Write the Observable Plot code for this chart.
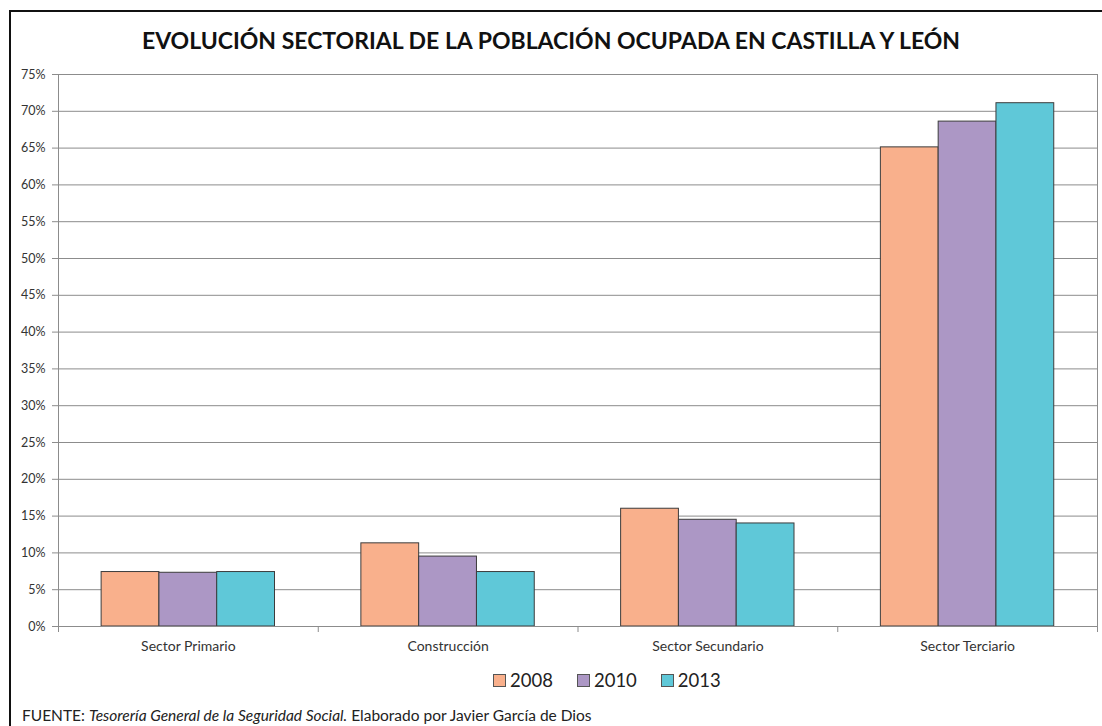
<!DOCTYPE html>
<html><head><meta charset="utf-8">
<script src="https://cdn.jsdelivr.net/npm/d3@7"></script>
<script src="https://cdn.jsdelivr.net/npm/@observablehq/plot@0.6"></script>
<style>
html,body{margin:0;padding:0;background:#fff;}
#wrap{position:relative;width:1102px;height:726px;overflow:hidden;font-family:Lato,sans-serif;background:#fff;}
#frame{position:absolute;left:9px;top:10px;width:1200px;height:800px;border-left:2px solid #111;border-top:2px solid #111;pointer-events:none;box-sizing:border-box;}
#title{height:56px;box-sizing:border-box;padding-top:28px;line-height:24px;text-align:center;font-weight:bold;font-size:23px;color:#111;white-space:nowrap;}
#chart svg{display:block;}
#legend{height:40px;box-sizing:border-box;padding-top:8px;padding-left:493px;display:flex;align-items:center;line-height:25px;font-size:18.5px;color:#222;}
.item{display:flex;align-items:center;margin-right:24px;}
.sw{width:11px;height:11px;border:1px solid #555;margin-right:4px;}
#footer{height:30px;box-sizing:border-box;padding-top:9px;padding-left:22px;line-height:20px;font-size:15.5px;color:#222;white-space:nowrap;}
</style></head>
<body>
<div id="wrap">
  <div id="frame"></div>
  <div id="title"></div>
  <div id="chart"></div>
  <div id="legend"></div>
  <div id="footer"></div>
</div>
<script>
const titleText = "EVOLUCIÓN SECTORIAL DE LA POBLACIÓN OCUPADA EN CASTILLA Y LEÓN";
const sectors = ["Sector Primario", "Construcción", "Sector Secundario", "Sector Terciario"];
const years = ["2008", "2010", "2013"];
const v2008 = [7.4, 11.3, 16.0, 65.1];
const v2010 = [7.3, 9.5, 14.5, 68.6];
const v2013 = [7.4, 7.4, 14.0, 71.1];
const yTicks = [0, 5, 10, 15, 20, 25, 30, 35, 40, 45, 50, 55, 60, 65, 70, 75];
const yTickLabels = ["0%", "5%", "10%", "15%", "20%", "25%", "30%", "35%", "40%", "45%", "50%", "55%", "60%", "65%", "70%", "75%"];
const colors = ["#F9B08C", "#AC97C5", "#5FC8D8"];
const footerPlain1 = "FUENTE: ";
const footerItalic = "Tesorería General de la Seguridad Social.";
const footerPlain2 = " Elaborado por Javier García de Dios";

const series = [v2008, v2010, v2013];
const rows = [];
sectors.forEach((s, i) => years.forEach((yr, j) => rows.push({sector: s, slot: i, k: j, year: yr, value: series[j][i]})));

const PAD = 0.166, BW = 0.2225;
const gridColor = "#8c8c8c";

const plot = Plot.plot({
  width: 1102,
  height: 600,
  marginLeft: 58,
  marginRight: 5,
  marginTop: 18,
  marginBottom: 30,
  x: {domain: [0, sectors.length], axis: null},
  y: {domain: [0, 75], axis: null},
  color: {domain: years, range: colors},
  style: {fontFamily: "Lato, sans-serif", color: "#333", background: "white"},
  marks: [
    Plot.gridY(yTicks, {stroke: gridColor, strokeOpacity: 1}),
    Plot.rect(rows, {
      x1: d => d.slot + PAD + d.k * BW,
      x2: d => d.slot + PAD + (d.k + 1) * BW,
      y1: 0,
      y2: "value",
      fill: "year",
      stroke: "#3c3c3c",
      strokeWidth: 1
    }),
    Plot.ruleY([0], {stroke: gridColor}),
    Plot.ruleX([0, sectors.length], {stroke: gridColor, insetBottom: -6}),
    Plot.ruleX(d3.range(1, sectors.length), {stroke: gridColor, insetTop: 552, insetBottom: -6}),
    Plot.axisY({ticks: yTicks, tickSize: 6, tickPadding: 7, stroke: gridColor, fill: "#333", fontSize: 12.5,
      tickFormat: d => yTickLabels[yTicks.indexOf(d)], label: null}),
    Plot.text(sectors, {x: (d, i) => i + 0.5, y: 0, dy: 20, fontSize: 14, fill: "#333"})
  ]
});
document.getElementById("chart").appendChild(plot);

document.getElementById("title").textContent = titleText;

const legend = document.getElementById("legend");
years.forEach((yr, j) => {
  const it = document.createElement("div");
  it.className = "item";
  const sw = document.createElement("div");
  sw.className = "sw";
  sw.style.background = colors[j];
  const t = document.createElement("span");
  t.textContent = yr;
  it.appendChild(sw); it.appendChild(t);
  legend.appendChild(it);
});

const footer = document.getElementById("footer");
footer.appendChild(document.createTextNode(footerPlain1));
const em = document.createElement("i");
em.textContent = footerItalic;
footer.appendChild(em);
footer.appendChild(document.createTextNode(footerPlain2));
</script>
</body></html>
